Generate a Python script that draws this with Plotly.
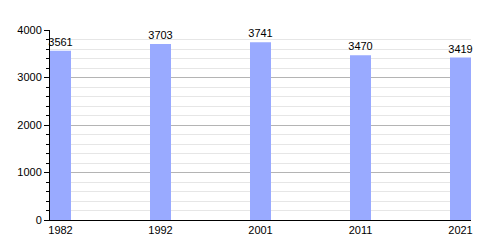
import plotly.graph_objects as go

years = ["1982", "1992", "2001", "2011", "2021"]
population = [3561, 3703, 3741, 3470, 3419]

fig = go.Figure()
fig.add_trace(go.Bar(
    x=years, y=population,
    width=0.21,
    marker=dict(color="#99aaff", line=dict(width=0)),
    text=[str(v) for v in population],
    textposition="outside",
    constraintext="none",
    textfont=dict(family="Liberation Sans, Arial, sans-serif", size=11, color="black"),
    cliponaxis=False,
))

fig.update_layout(
    width=500, height=250,
    margin=dict(l=50, r=29, t=30, b=30),
    paper_bgcolor="white", plot_bgcolor="white",
    showlegend=False,
    font=dict(family="Liberation Sans, Arial, sans-serif", size=11, color="black"),
    xaxis=dict(
        type="category", range=[-0.105, 4.105],
        showline=True, linecolor="black", linewidth=1,
        showgrid=False, ticks="", tickfont=dict(size=11),
    ),
    yaxis=dict(
        range=[0, 4000], tickvals=[0, 1000, 2000, 3000, 4000],
        showline=True, linecolor="black", linewidth=1,
        showgrid=True, gridcolor="#b4b4b4", gridwidth=1,
        ticks="outside", ticklen=5, tickcolor="black",
        zeroline=False,
        minor=dict(dtick=200, showgrid=True, gridcolor="#e6e6e6",
                   ticks="outside", ticklen=3, tickcolor="black"),
        tickfont=dict(size=11),
    ),
)

fig.write_html("out.html")
